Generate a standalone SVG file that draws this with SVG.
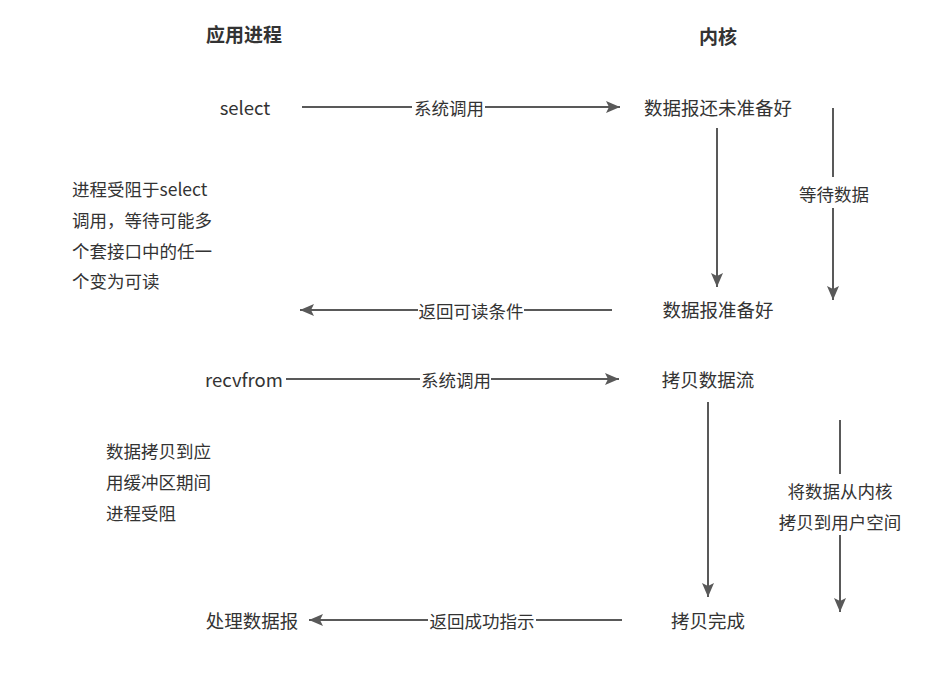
<svg xmlns="http://www.w3.org/2000/svg" width="950" height="675" viewBox="0 0 950 675">
<style>
text{font-family:"Microsoft YaHei","Noto Sans CJK SC","Noto Sans",sans-serif;fill:#333;dominant-baseline:central}
.h{font-size:19px;font-weight:bold;text-anchor:middle}
.n{font-size:18.5px;text-anchor:middle}
.l{font-size:17.5px;text-anchor:middle}
.t{font-size:17.5px}
.c line{stroke:#595959;stroke-width:2;marker-end:url(#a)}
.bg{fill:#fff}
</style>
<defs>
<marker id="a" markerUnits="userSpaceOnUse" markerWidth="16" markerHeight="12" refX="14" refY="6" orient="auto"><path d="M0,0 L14,6 L0,12 L3,6 Z" fill="#595959"/></marker>
</defs>
<rect width="950" height="675" fill="#fff"/>
<g id="title-app"><text class="h" x="244" y="33">应用进程</text></g>
<g id="title-kernel"><text class="h" x="718" y="35">内核</text></g>
<g class="c" id="connectors">
<line x1="302" y1="107" x2="620" y2="107"/>
<line x1="717" y1="128" x2="717" y2="287"/>
<line x1="833" y1="108" x2="833" y2="300"/>
<line x1="612" y1="310" x2="300" y2="310"/>
<line x1="286" y1="379" x2="619" y2="379"/>
<line x1="708" y1="402" x2="708" y2="597"/>
<line x1="840" y1="420" x2="840" y2="612"/>
<line x1="622" y1="620" x2="309" y2="620"/>
<rect class="bg" x="412" y="95" width="73" height="24"/>
<text class="l" x="449" y="107">系统调用</text>
<rect class="bg" x="796" y="177" width="76" height="31"/>
<text class="l" x="834" y="193">等待数据</text>
<rect class="bg" x="418" y="298" width="106" height="24"/>
<text class="l" x="471" y="310">返回可读条件</text>
<rect class="bg" x="420" y="367" width="71" height="24"/>
<text class="l" x="456" y="379">系统调用</text>
<rect class="bg" x="780" y="474" width="120" height="61"/>
<text class="l" x="840" y="490">将数据从内核</text>
<text class="l" x="840" y="521">拷贝到用户空间</text>
<rect class="bg" x="428" y="608" width="108" height="24"/>
<text class="l" x="482" y="620">返回成功指示</text>
</g>
<g id="select"><text class="n" x="245" y="107">select</text></g>
<g id="not-ready"><text class="n" x="718" y="107">数据报还未准备好</text></g>
<g id="blocked-select"><text class="t" x="72" y="188">进程受阻于select</text><text class="t" x="72" y="219">调用，等待可能多</text><text class="t" x="72" y="250">个套接口中的任一</text><text class="t" x="72" y="280">个变为可读</text></g>
<g id="ready"><text class="n" x="718" y="309">数据报准备好</text></g>
<g id="recvfrom"><text class="n" x="244" y="379">recvfrom</text></g>
<g id="copy"><text class="n" x="708" y="379">拷贝数据流</text></g>
<g id="blocked-copy"><text class="t" x="106" y="450">数据拷贝到应</text><text class="t" x="106" y="481">用缓冲区期间</text><text class="t" x="106" y="512">进程受阻</text></g>
<g id="process"><text class="n" x="252" y="620">处理数据报</text></g>
<g id="done"><text class="n" x="708" y="620">拷贝完成</text></g>
</svg>
